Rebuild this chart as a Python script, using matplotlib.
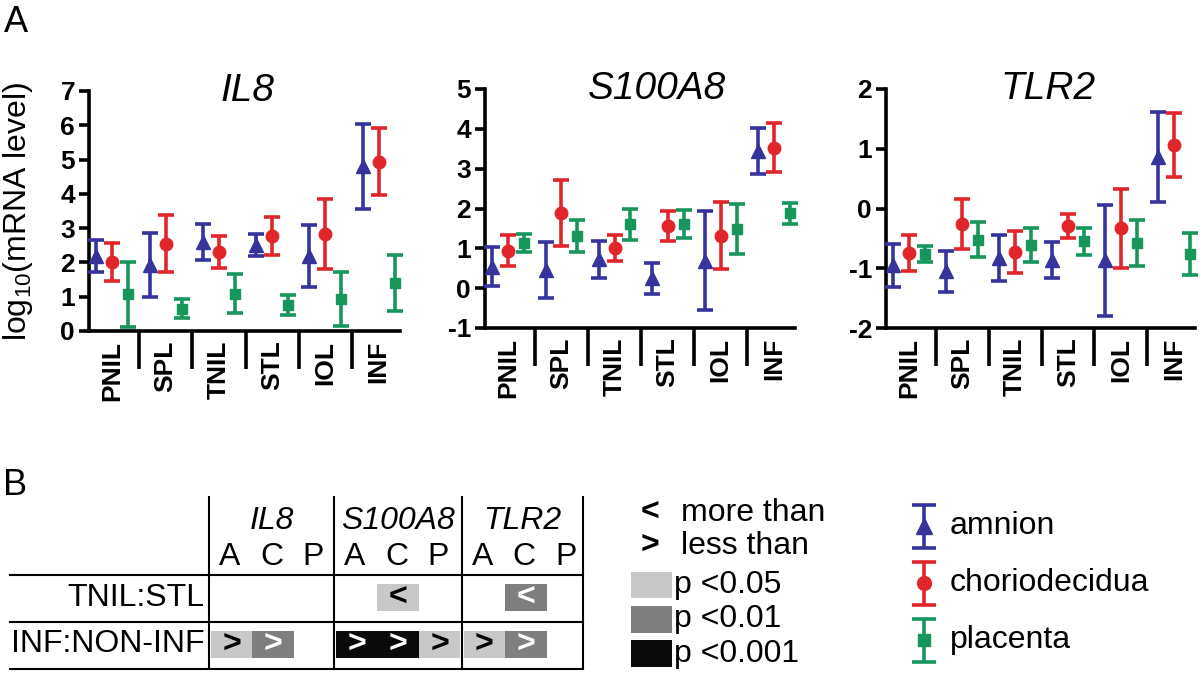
import matplotlib
matplotlib.use("Agg")
import matplotlib.pyplot as plt
from matplotlib.patches import Rectangle

plt.rcParams["font.family"] = ["Liberation Sans", "DejaVu Sans"]
plt.rcParams["mathtext.default"] = "regular"
plt.rcParams["axes.unicode_minus"] = False

groups = ["PNIL", "SPL", "TNIL", "STL", "IOL", "INF"]
tissues = ["amnion", "choriodecidua", "placenta"]
colors = ["#36349c", "#e0262b", "#17965c"]
markers = ["^", "o", "s"]

# log10 mRNA level: mean and half error bar
il8_amnion = [2.19, 1.92, 2.60, 2.50, 2.19, 4.80]
il8_amnion_err = [0.46, 0.93, 0.53, 0.32, 0.90, 1.25]
il8_chorio = [2.02, 2.55, 2.31, 2.77, 2.82, 4.94]
il8_chorio_err = [0.56, 0.82, 0.46, 0.55, 1.02, 0.98]
il8_placenta = [1.07, 0.65, 1.09, 0.76, 0.94, 1.40]
il8_placenta_err = [0.95, 0.28, 0.57, 0.29, 0.79, 0.82]

s100_amnion = [0.54, 0.45, 0.72, 0.25, 0.69, 3.44]
s100_amnion_err = [0.49, 0.70, 0.46, 0.39, 1.25, 0.57]
s100_chorio = [0.94, 1.88, 1.00, 1.56, 1.32, 3.53]
s100_chorio_err = [0.39, 0.83, 0.33, 0.38, 0.84, 0.62]
s100_placenta = [1.14, 1.32, 1.60, 1.60, 1.49, 1.88]
s100_placenta_err = [0.22, 0.40, 0.38, 0.35, 0.62, 0.27]

tlr2_amnion = [-0.95, -1.05, -0.83, -0.86, -0.87, 0.86]
tlr2_amnion_err = [0.36, 0.34, 0.38, 0.30, 0.93, 0.75]
tlr2_chorio = [-0.75, -0.26, -0.73, -0.30, -0.33, 1.06]
tlr2_chorio_err = [0.30, 0.42, 0.35, 0.20, 0.66, 0.53]
tlr2_placenta = [-0.76, -0.52, -0.61, -0.55, -0.58, -0.76]
tlr2_placenta_err = [0.14, 0.30, 0.29, 0.23, 0.38, 0.35]

genes = ["IL8", "S100A8", "TLR2"]
ylims = [(0, 7), (-1, 5), (-2, 2)]

# part B: significance level (0 none, 1 p<0.05, 2 p<0.01, 3 p<0.001) per gene x A/C/P
comparisons = ["TNIL:STL", "INF:NON-INF"]
comp_dirs = ["<", ">"]
tnil_stl_sig = [0, 0, 0, 0, 1, 0, 0, 2, 0]
inf_noninf_sig = [1, 2, 0, 3, 3, 1, 1, 2, 0]
sig_labels = ["p <0.05", "p <0.01", "p <0.001"]
sig_colors = ["#c8c8c8", "#7f7f7f", "#0a0a0a"]
sig_text = ["black", "white", "white"]

panel_data = [
    [(il8_amnion, il8_amnion_err), (il8_chorio, il8_chorio_err), (il8_placenta, il8_placenta_err)],
    [(s100_amnion, s100_amnion_err), (s100_chorio, s100_chorio_err), (s100_placenta, s100_placenta_err)],
    [(tlr2_amnion, tlr2_amnion_err), (tlr2_chorio, tlr2_chorio_err), (tlr2_placenta, tlr2_placenta_err)],
]

W, H = 1200, 674
fig = plt.figure(figsize=(W / 100, H / 100), dpi=100)


def rect(l, r, t, b):
    return [l / W, 1 - b / H, (r - l) / W, (b - t) / H]


boxes = [rect(89, 400, 91, 331), rect(485, 795, 89, 328), rect(886, 1195, 89, 328)]
title_x = [0.51, 0.555, 0.524]
offsets = [-0.3, 0.0, 0.3]
msizes = [10, 9, 7.5]

for k, gene in enumerate(genes):
    ax = fig.add_axes(boxes[k])
    for j in range(3):
        mean, err = panel_data[k][j]
        xs = [i + offsets[j] for i in range(len(groups))]
        ax.errorbar(xs, mean, yerr=err, fmt=markers[j], color=colors[j],
                    ms=msizes[j], elinewidth=2.6, capsize=6, capthick=2.6,
                    clip_on=False, zorder=3)
    lo, hi = ylims[k]
    ax.set_ylim(lo, hi)
    ax.set_xlim(-0.44, 5.4)
    ax.tick_params(axis="x", which="major", length=27, width=2.6, direction="out")
    ax.tick_params(axis="x", which="minor", length=0, pad=7)
    ax.tick_params(axis="y", length=7, width=2.6, pad=3)
    ticks = list(range(lo, hi + 1))
    ax.set_yticks(ticks, labels=[str(v) for v in ticks], fontsize=19,
                  fontweight="bold")
    ax.set_xticks([i + 0.5 for i in range(5)], labels=[])
    ax.set_xticks(range(6), labels=groups, minor=True, fontsize=19,
                  fontweight="bold", rotation=90)
    for s in ["top", "right"]:
        ax.spines[s].set_visible(False)
    for s in ["left", "bottom"]:
        ax.spines[s].set_linewidth(2.6)
    ax.text(title_x[k], 1.0, gene, transform=ax.transAxes, ha="center",
            va="center", fontsize=28, style="italic")
    if k == 0:
        ax.set_ylabel("log$_{10}$(mRNA level)", fontsize=23)
        ax.yaxis.set_label_coords(-0.175, 0.5)

fig.text(4 / W, 1 - 5 / H, "A", fontsize=26, va="top")
fig.text(3 / W, 1 - 468 / H, "B", fontsize=26, va="top")

# part B drawn on an overlay in pixel units
ov = fig.add_axes([0, 0, 1, 1])
ov.set_xlim(0, W)
ov.set_ylim(H, 0)
ov.axis("off")

block_left = [209.3, 334.3, 462.0]
table_right = 583.3
col_w = 41.5
lw = 1.5
for x in block_left + [table_right]:
    ov.plot([x, x], [497, 669.3], color="black", lw=lw)
for y in [575, 621.7, 669.3]:
    ov.plot([10, table_right], [y, y], color="black", lw=lw)

block_edges = block_left + [table_right]
for g, gene in enumerate(genes):
    cx = (block_edges[g] + block_edges[g + 1]) / 2
    ov.text(cx, 521, gene, ha="center", va="center", fontsize=23, style="italic")
    for c, letter in enumerate(["A", "C", "P"]):
        ov.text(block_left[g] + col_w * (c + 0.5), 557, letter, ha="center",
                va="center", fontsize=23)

row_y = [597.5, 644.5]
for r, (name, sig) in enumerate(zip(comparisons, [tnil_stl_sig, inf_noninf_sig])):
    ov.text(204, row_y[r], name, ha="right", va="center", fontsize=23)
    for idx, level in enumerate(sig):
        if level == 0:
            continue
        g, c = divmod(idx, 3)
        x0 = block_left[g] + 1.5 + col_w * c
        ov.add_patch(Rectangle((x0, row_y[r] - 13.5), col_w, 27,
                               color=sig_colors[level - 1], lw=0))
        ov.text(x0 + col_w / 2, row_y[r], comp_dirs[r], ha="center", va="center",
                fontsize=23, fontweight="bold", color=sig_text[level - 1])

# symbol / shading key
ov.text(650, 513, "<", ha="center", va="center", fontsize=23, fontweight="bold")
ov.text(681, 513, "more than", ha="left", va="center", fontsize=23)
ov.text(650, 546, ">", ha="center", va="center", fontsize=23, fontweight="bold")
ov.text(681, 546, "less than", ha="left", va="center", fontsize=23)
for i, lab in enumerate(sig_labels):
    yc = 585 + 34.3 * i
    ov.add_patch(Rectangle((630.6, yc - 13.3), 41, 26.6, color=sig_colors[i], lw=0))
    ov.text(674, yc, lab, ha="left", va="center", fontsize=23)

# tissue key
for j, t in enumerate(tissues):
    yc = 526 + 57 * j
    ov.errorbar([924], [yc], yerr=[21.5], fmt=markers[j], color=colors[j],
                ms=msizes[j] + 1, elinewidth=2.6, capsize=8.5, capthick=2.6)
    ov.text(950, yc, t, ha="left", va="center", fontsize=23)

fig.savefig("out.png", dpi=100)
